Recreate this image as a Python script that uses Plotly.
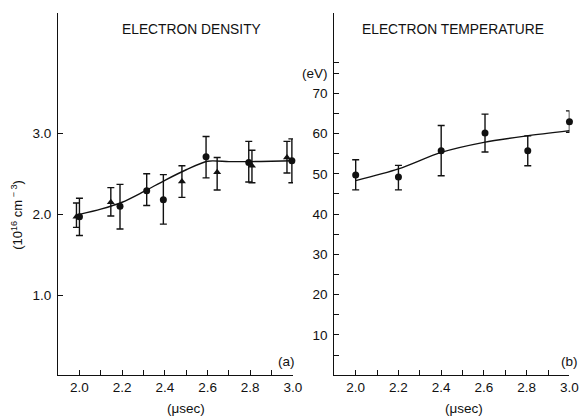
import plotly.graph_objects as go

W, H = 588, 416

# ---- Data: electron density (10^16 cm^-3) ----
dens_circ_t = [2.0, 2.19, 2.315, 2.393, 2.593, 2.793, 2.995]
dens_circ_v = [1.97, 2.10, 2.29, 2.18, 2.71, 2.64, 2.66]
dens_circ_up = [0.23, 0.27, 0.21, 0.31, 0.25, 0.26, 0.27]
dens_circ_dn = [0.23, 0.28, 0.18, 0.30, 0.26, 0.24, 0.27]

dens_tri_t = [1.986, 2.147, 2.48, 2.645, 2.808, 2.972]
dens_tri_v = [1.97, 2.15, 2.405, 2.52, 2.60, 2.70]
dens_tri_up = [0.17, 0.18, 0.195, 0.18, 0.19, 0.20]
dens_tri_dn = [0.13, 0.17, 0.195, 0.22, 0.21, 0.19]

dens_fit_t = [2.0, 2.1, 2.2, 2.3, 2.4, 2.5, 2.6, 2.7, 2.8, 2.9, 3.0]
dens_fit_v = [2.0, 2.065, 2.15, 2.28, 2.42, 2.55, 2.655, 2.65, 2.65, 2.655, 2.66]

# ---- Data: electron temperature (eV) ----
temp_t = [2.0, 2.2, 2.4, 2.605, 2.805, 3.0]
temp_v = [49.7, 49.2, 55.7, 60.1, 55.7, 62.9]
temp_up = [3.8, 2.9, 6.3, 4.7, 3.7, 2.7]
temp_dn = [3.7, 3.2, 6.2, 4.7, 3.7, 2.6]

temp_fit_t = [2.0, 2.2, 2.4, 2.6, 2.8, 3.0]
temp_fit_v = [48.3, 51.2, 55.3, 57.8, 59.4, 60.7]

# ---- Tick labels ----
x_tickvals = [1.9, 2.0, 2.1, 2.2, 2.3, 2.4, 2.5, 2.6, 2.7, 2.8, 2.9, 3.0]
x_ticktext = ["", "2.0", "", "2.2", "", "2.4", "", "2.6", "", "2.8", "", "3.0"]
dens_tickvals = [1.0, 2.0, 3.0]
dens_ticktext = ["1.0", "2.0", "3.0"]
temp_tickvals = [5, 10, 15, 20, 25, 30, 35, 40, 45, 50, 55, 60, 65, 70, 75, 77.5]
temp_ticktext = ["", "10", "", "20", "", "30", "", "40", "", "50", "", "60", "", "70", "(eV)", ""]

INK = "#111111"
FONT = "Liberation Sans, Arial, Helvetica, sans-serif"

fig = go.Figure()

# density fit curve
fig.add_trace(go.Scatter(x=dens_fit_t, y=dens_fit_v, mode="lines",
                         line=dict(color=INK, width=1.4, shape="spline", smoothing=0.8),
                         xaxis="x", yaxis="y", showlegend=False, hoverinfo="skip",
                         cliponaxis=False))
# density circles
fig.add_trace(go.Scatter(x=dens_circ_t, y=dens_circ_v, mode="markers",
                         marker=dict(symbol="circle", size=7, color=INK),
                         error_y=dict(type="data", array=dens_circ_up, arrayminus=dens_circ_dn,
                                      color=INK, thickness=1.4, width=3.5),
                         xaxis="x", yaxis="y", showlegend=False, cliponaxis=False))
# density triangles
fig.add_trace(go.Scatter(x=dens_tri_t, y=dens_tri_v, mode="markers",
                         marker=dict(symbol="triangle-up", size=7, color=INK),
                         error_y=dict(type="data", array=dens_tri_up, arrayminus=dens_tri_dn,
                                      color=INK, thickness=1.4, width=3.5),
                         xaxis="x", yaxis="y", showlegend=False, cliponaxis=False))
# temperature fit
fig.add_trace(go.Scatter(x=temp_fit_t, y=temp_fit_v, mode="lines",
                         line=dict(color=INK, width=1.4, shape="spline", smoothing=0.8),
                         xaxis="x2", yaxis="y2", showlegend=False, hoverinfo="skip",
                         cliponaxis=False))
# temperature points
fig.add_trace(go.Scatter(x=temp_t, y=temp_v, mode="markers",
                         marker=dict(symbol="circle", size=7, color=INK),
                         error_y=dict(type="data", array=temp_up, arrayminus=temp_dn,
                                      color=INK, thickness=1.4, width=3.5),
                         xaxis="x2", yaxis="y2", showlegend=False, cliponaxis=False))

ydom = [(H - 375) / H, (H - 13) / H]

common_x = dict(range=[1.9, 3.0], tickmode="array", tickvals=x_tickvals, ticktext=x_ticktext,
                ticks="inside", ticklen=5, tickwidth=1, tickcolor=INK,
                showline=True, linecolor=INK, linewidth=1, showgrid=False, zeroline=False,
                tickfont=dict(family=FONT, size=13.5, color=INK), fixedrange=True)
common_y = dict(ticks="inside", ticklen=5, tickwidth=1, tickcolor=INK,
                showline=True, linecolor=INK, linewidth=1, showgrid=False, zeroline=False,
                tickfont=dict(family=FONT, size=13.5, color=INK), ticklabelstandoff=3,
                fixedrange=True)


def label(text, px, py, size=13.5, angle=0):
    return dict(text=text, x=px / W, y=1 - py / H, xref="paper", yref="paper",
                xanchor="center", yanchor="middle", textangle=angle, showarrow=False,
                font=dict(family=FONT, size=size, color=INK))


fig.update_layout(
    width=W, height=H,
    margin=dict(l=0, r=0, t=0, b=0),
    paper_bgcolor="white", plot_bgcolor="white",
    font=dict(family=FONT, color=INK),
    xaxis=dict(domain=[59 / W, 297.5 / W], anchor="y", **common_x),
    yaxis=dict(domain=ydom, anchor="x", range=[0.023, 4.48], tickmode="array",
               tickvals=dens_tickvals, ticktext=dens_ticktext, **common_y),
    xaxis2=dict(domain=[339.5 / W, 578.3 / W], anchor="y2", **common_x),
    yaxis2=dict(domain=ydom, anchor="x2", range=[0.07, 89.9], tickmode="array",
                tickvals=temp_tickvals, ticktext=temp_ticktext, **common_y),
    annotations=[
        label("ELECTRON DENSITY", 194, 30, 13.8),
        label("ELECTRON TEMPERATURE", 460, 30, 13.8),
        label("(10<sup>16</sup> cm<sup> \u2212 3</sup>)", 17, 215, 13, -90),
        label("(\u03bcsec)", 189, 408),
        label("(\u03bcsec)", 471, 408),
        label("(a)", 291, 361),
        label("(b)", 578, 361),
    ],
)

fig.write_html("out.html")
